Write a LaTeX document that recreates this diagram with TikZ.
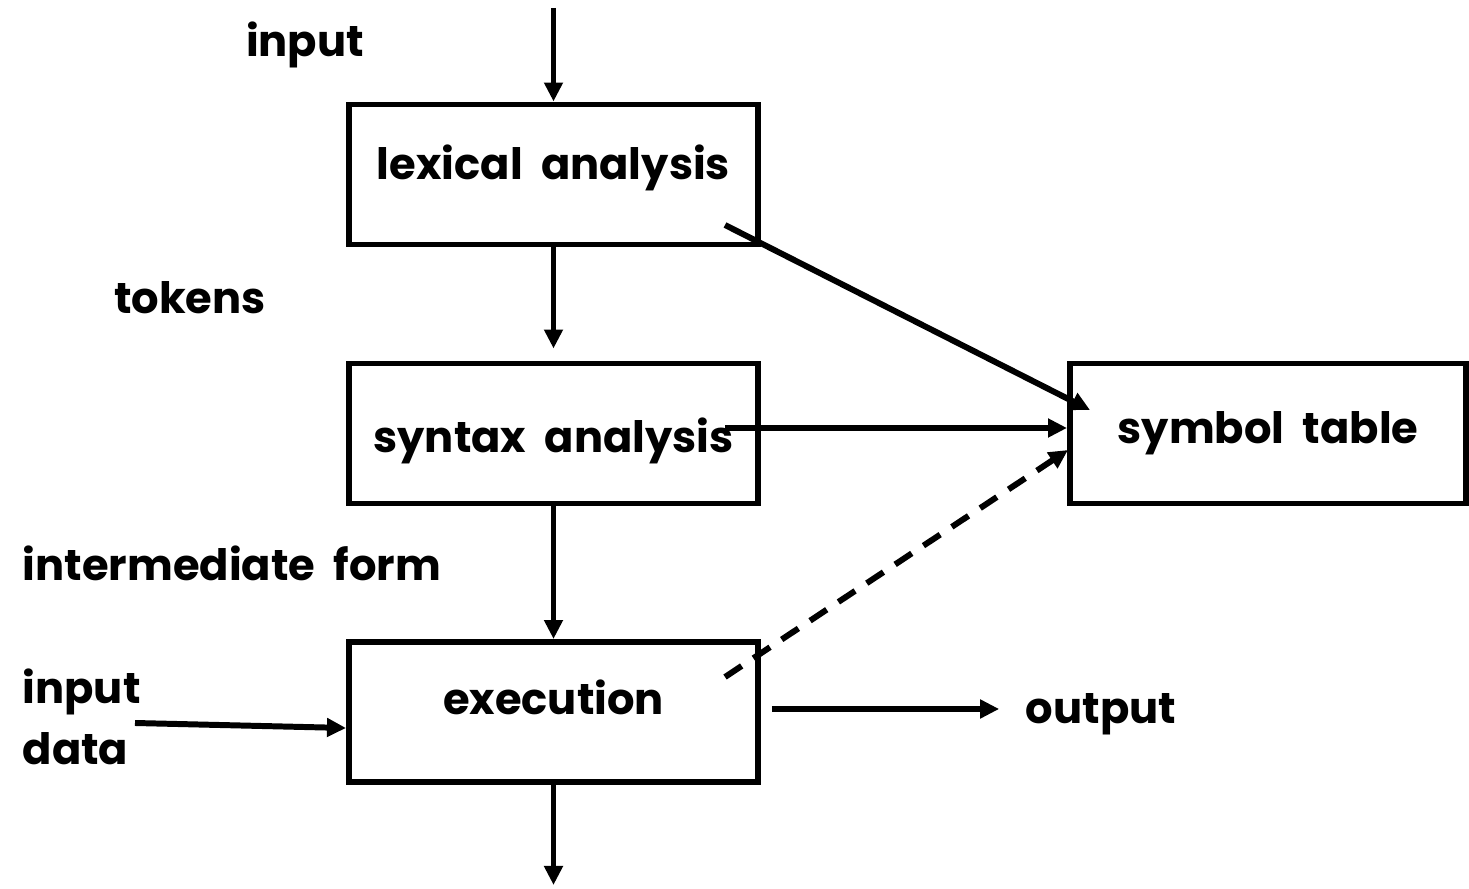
\documentclass[tikz,border=0pt]{standalone}
\usepackage{fontspec}
\setmainfont{Poppins}[WordSpace=2]
\usetikzlibrary{arrows.meta,positioning}

\begin{document}
\begin{tikzpicture}[x=1cm,y=1cm]
\tikzset{
  stagebox/.style={rectangle,draw,line width=1.7pt,minimum width=4.09cm,minimum height=1.40cm,inner sep=0pt,font=\bfseries\fontsize{12.3}{15}\selectfont},
  flowlabel/.style={inner sep=0pt,font=\bfseries\fontsize{12.3}{15}\selectfont},
  flow/.style={-{Triangle[length=1.9mm,width=1.8mm]},line width=1.7pt},
  lookup/.style={flow,dash pattern=on 2mm off 1.4mm}
}
\useasboundingbox (0,0) rectangle (14.69,8.89);
% stages
\node[stagebox,text depth=0.25cm] (n_lex) at (5.535,7.145) {lexical analysis};
\node[stagebox,text height=0.5cm] (n_syn) at (5.535,4.555) {syntax analysis};
\node[stagebox,text depth=0.3cm] (n_exe) at (5.535,1.77) {execution};
\node[stagebox,minimum width=3.96cm,text depth=0.12cm] (n_sym) at (12.68,4.555) {symbol table};
% labels
\node[flowlabel] (l_input) at (3.05,8.44) {input};
\node[flowlabel] (l_tokens) at (1.90,5.91) {tokens};
\node[flowlabel] (l_inter) at (2.32,3.26) {intermediate form};
\node[flowlabel,anchor=west,align=left] (l_data) at (0.22,1.72) {input\\[0.08cm]data};
\node[flowlabel] (l_output) at (11.01,1.75) {output};
% free ends
\coordinate (c_top) at (5.535,8.81);
\coordinate (c_bottom) at (5.535,0.04);
\coordinate (c_lex) at (7.25,6.64);
\coordinate (c_syn) at (7.25,4.61);
\coordinate (c_exe) at (7.25,2.12);
\coordinate (c_data) at (1.35,1.66);
% connectors
\draw[flow] (c_top) -- (n_lex);
\draw[flow,shorten >=1.2mm] (n_lex) -- (n_syn);
\draw[flow] (n_syn) -- (n_exe);
\draw[flow] (n_exe) -- (c_bottom);
\draw[flow] (c_lex) -- (10.9,4.79);
\draw[flow] (c_syn) -- (n_sym.west |- c_syn);
\draw[lookup] (c_exe) -- (10.68,4.39);
\draw[flow] (c_data) -- (n_exe.west |- 0,1.61);
\draw[flow,shorten <=1.1mm,shorten >=2.6mm] (n_exe.east |- 0,1.80) -- (l_output.west |- 0,1.80);
\end{tikzpicture}
\end{document}
